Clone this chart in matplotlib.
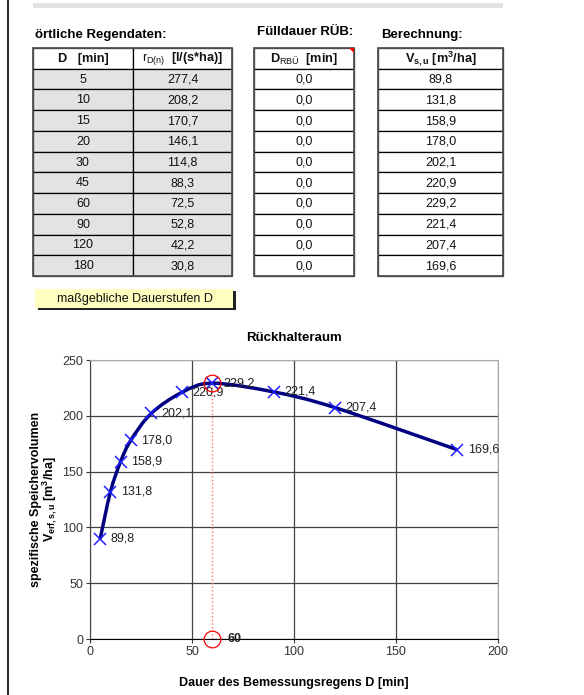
import numpy as np
import matplotlib.pyplot as plt
from matplotlib.path import Path
from matplotlib.patches import PathPatch, Rectangle, Polygon

plt.rcParams['font.family'] = ['Liberation Sans', 'DejaVu Sans']
plt.rcParams['mathtext.fontset'] = 'custom'
plt.rcParams['mathtext.rm'] = 'Liberation Sans'
plt.rcParams['mathtext.bf'] = 'Liberation Sans:bold'
plt.rcParams['mathtext.it'] = 'Liberation Sans:italic'

# Daten
dauer = [5, 10, 15, 20, 30, 45, 60, 90, 120, 180]
regenspende = [277.4, 208.2, 170.7, 146.1, 114.8, 88.3, 72.5, 52.8, 42.2, 30.8]
fuelldauer = [0.0] * 10
volumen = [89.8, 131.8, 158.9, 178.0, 202.1, 220.9, 229.2, 221.4, 207.4, 169.6]
massgebend = 60
x_ticks = [0, 50, 100, 150, 200]
y_ticks = [0, 50, 100, 150, 200, 250]


def fmt(v):
    return f"{v:.1f}".replace('.', ',')


# Glatte Linie wie in Excel (Bezier)
def smooth_path(x, y):
    pts = np.column_stack([x, y]).astype(float)
    n = len(pts)
    verts = [pts[0]]
    codes = [Path.MOVETO]
    for i in range(n - 1):
        p0 = pts[i - 1] if i > 0 else pts[i]
        p1 = pts[i]
        p2 = pts[i + 1]
        p3 = pts[i + 2] if i + 2 < n else pts[i + 1]
        verts += [p1 + (p2 - p0) / 6, p2 - (p3 - p1) / 6, p2]
        codes += [Path.CURVE4] * 3
    return Path(verts, codes)


W, H = 584, 695
fig = plt.figure(figsize=(W / 100, H / 100), dpi=100)

# Hintergrund-Achse in Pixelkoordinaten
bg = fig.add_axes([0, 0, 1, 1])
bg.set_xlim(0, W)
bg.set_ylim(H, 0)
bg.axis('off')

bg.plot([8, 8], [0, H], color='black', lw=1.2)
bg.add_patch(Rectangle((33, 3), 470, 5, color='#e3e3e3', lw=0))

# Tabellen
top = 48
rh = 228 / 11


def draw_table(x0, widths, header, cols, fill):
    total = sum(widths)
    n = len(cols[0])
    for r in range(n + 1):
        y = top + r * rh
        cx = x0
        for c, w in enumerate(widths):
            fc = 'white' if r == 0 else fill
            bg.add_patch(Rectangle((cx, y), w, rh, facecolor=fc,
                                   edgecolor='black', lw=0.9))
            txt = header[c] if r == 0 else cols[c][r - 1]
            bg.text(cx + w / 2, y + rh / 2 + 0.5, txt, ha='center', va='center',
                    fontsize=9 if r else 9.2,
                    fontweight='bold' if r == 0 else 'normal', color='#111')
            cx += w
    bg.add_patch(Rectangle((x0, top), total, rh * (n + 1), fill=False,
                           edgecolor='#555', lw=1.3))


draw_table(33, [100, 99],
           ['D   [min]', r'$\mathrm{r_{D(n)}}$  [l/(s*ha)]'],
           [[str(d) for d in dauer], [fmt(v) for v in regenspende]], '#e3e3e3')
draw_table(254, [100],
           [r'D$\mathrm{_{RBÜ}}$  [min]'],
           [[fmt(v) for v in fuelldauer]], 'white')
draw_table(378, [125],
           [r'V$\mathbf{_{s,u}}$ [m$\mathbf{^3}$/ha]'],
           [[fmt(v) for v in volumen]], 'white')

bg.add_patch(Polygon([[349, 48], [354, 48], [354, 53]], color='red', lw=0))

bg.text(35, 35, 'örtliche Regendaten:', fontsize=9.5, fontweight='bold', va='center')
bg.text(257, 32, 'Fülldauer RÜB:', fontsize=9.5, fontweight='bold', va='center')
bg.text(381, 35, 'Berechnung:', fontsize=9.5, fontweight='bold', va='center')

# Schaltfläche
bg.add_patch(Rectangle((38, 291), 198, 19, facecolor='#222', lw=0))
bg.add_patch(Rectangle((35, 289), 198, 19, facecolor='#ffffc0', lw=0))
bg.text(135, 299, 'maßgebliche Dauerstufen D', ha='center', va='center',
        fontsize=9, color='#111')

# Diagramm
ax = fig.add_axes([90 / W, 1 - 639 / H, 408 / W, 279 / H])
ax.set_xlim(0, 200)
ax.set_ylim(0, 250)
ax.set_xticks(x_ticks)
ax.set_yticks(y_ticks)
ax.grid(True, color='#444', lw=0.9)
ax.set_axisbelow(True)
for s in ['top', 'right']:
    ax.spines[s].set_color('#aaa')
ax.spines['left'].set_color('#444')
ax.spines['bottom'].set_color('black')
ax.tick_params(labelsize=9, colors='#333', length=3, width=0.8, pad=2)

ax.add_patch(PathPatch(smooth_path(dauer, volumen), facecolor='none',
                       edgecolor='#000080', lw=2.5, zorder=3))
ax.plot(dauer, volumen, ls='none', marker='x', color='#2020ff', ms=8, mew=1.1, zorder=4)
for d, v in zip(dauer, volumen):
    ax.annotate(fmt(v), (d, v), xytext=(7.5, 0), textcoords='offset points',
                ha='left', va='center', fontsize=9, color='#222', zorder=5)

vmax = volumen[dauer.index(massgebend)]
ax.plot([massgebend, massgebend], [0, vmax], color='#ff7070', ls=':', lw=1.0, zorder=2)
ax.plot([massgebend, massgebend], [0, vmax], ls='none', marker='o', ms=12,
        mfc='none', mec='red', mew=0.9, zorder=5, clip_on=False)
ax.annotate(str(massgebend), (massgebend, 0), xytext=(11, 0), textcoords='offset points',
            ha='left', va='center', fontsize=9, fontweight='bold', color='#222')

ax.set_title('Rückhalteraum', fontsize=9.5, fontweight='bold', pad=14)
ax.set_xlabel('Dauer des Bemessungsregens D [min]', fontsize=9, fontweight='bold',
              labelpad=14)
ax.set_ylabel('spezifische Speichervolumen\n' + r'V$\mathbf{_{erf,s,u}}$ [m$\mathbf{^3}$/ha]',
              fontsize=9, fontweight='bold', labelpad=2, linespacing=0.9)

fig.savefig('out.png', dpi=100)
